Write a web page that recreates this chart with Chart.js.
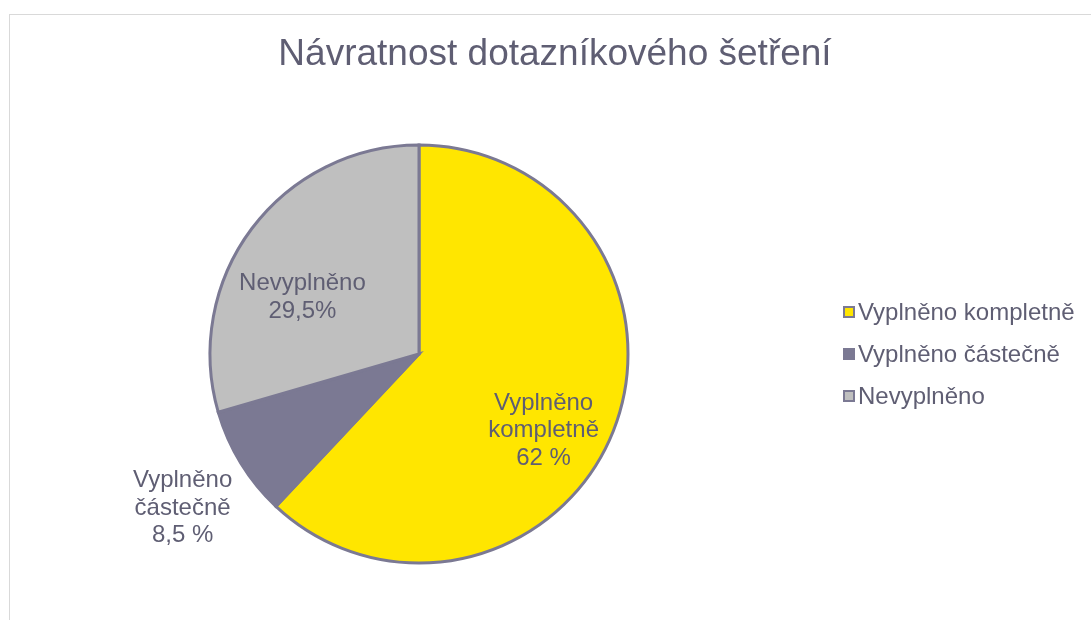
<!DOCTYPE html>
<html lang="cs">
<head>
<meta charset="utf-8">
<title>Návratnost dotazníkového šetření</title>
<script src="https://cdn.jsdelivr.net/npm/chart.js@4.4.1/dist/chart.umd.min.js"></script>
<style>
    html, body {
        margin: 0;
        padding: 0;
        background: #ffffff;
        overflow: hidden;
        width: 1091px;
        height: 620px;
    }
    #frame {
        position: absolute;
        left: 9px;
        top: 14px;
        width: 1100px;
        height: 640px;
        border: 1px solid #d9d9d9;
        box-sizing: border-box;
    }
    #chart {
        position: absolute;
        left: 9px;
        top: 14px;
    }
</style>
</head>
<body>
<div id="frame"></div>
<canvas id="chart" width="1092" height="606"></canvas>
<script>
const chartTitle = 'Návratnost dotazníkového šetření';
const categories = ['Vyplněno kompletně', 'Vyplněno částečně', 'Nevyplněno'];
const shares = [62, 8.5, 29.5];
const sliceLabels = [
    ['Vyplněno', 'kompletně', '62 %'],
    ['Vyplněno', 'částečně', '8,5 %'],
    ['Nevyplněno', '29,5%'],
];
const sliceColors = ['#ffe600', '#7b7993', '#bfbfbf'];

const textColor = '#5f5e73';
const edgeColor = '#7b7993';
const fontFamily = '"Liberation Sans", Arial, sans-serif';

// where each data label sits: angle shift from the slice middle, and distance as part of the radius
const labelShift = [10, -1.6, -11];
const labelDistance = [0.70, 1.35, 0.62];

// title is drawn over the full canvas width, the pie area itself is shifted left for the legend
const titlePlugin = {
    id: 'wideTitle',
    afterDraw(chart) {
        const ctx = chart.ctx;
        ctx.save();
        ctx.font = `37px ${fontFamily}`;
        ctx.fillStyle = textColor;
        ctx.textAlign = 'center';
        ctx.textBaseline = 'middle';
        ctx.fillText(chartTitle, chart.width / 2, 41);
        ctx.restore();
    },
};

const sliceLabelPlugin = {
    id: 'sliceLabels',
    afterDatasetsDraw(chart) {
        const ctx = chart.ctx;
        const meta = chart.getDatasetMeta(0);

        ctx.save();
        ctx.font = `24px ${fontFamily}`;
        ctx.fillStyle = textColor;
        ctx.textAlign = 'center';
        ctx.textBaseline = 'middle';

        meta.data.forEach((arc, index) => {
            const props = arc.getProps(['x', 'y', 'startAngle', 'endAngle', 'outerRadius'], true);
            const mid = (props.startAngle + props.endAngle) / 2 + labelShift[index] * Math.PI / 180;
            const dist = props.outerRadius * labelDistance[index];
            const cx = props.x + Math.cos(mid) * dist;
            const cy = props.y + Math.sin(mid) * dist;
            const lines = sliceLabels[index];
            const lineHeight = 27.5;
            const top = cy - ((lines.length - 1) * lineHeight) / 2;

            lines.forEach((line, i) => {
                ctx.fillText(line, cx, top + i * lineHeight);
            });
        });

        ctx.restore();
    },
};

const sideLegendPlugin = {
    id: 'sideLegend',
    afterDraw(chart) {
        const ctx = chart.ctx;
        const left = 834;
        const firstRow = 298;
        const rowGap = 42;
        const box = 12;

        ctx.save();
        ctx.font = `24px ${fontFamily}`;
        ctx.textAlign = 'left';
        ctx.textBaseline = 'middle';

        categories.forEach((name, index) => {
            const y = firstRow + index * rowGap;
            ctx.fillStyle = edgeColor;
            ctx.fillRect(left, y - box / 2, box, box);
            ctx.fillStyle = sliceColors[index];
            ctx.fillRect(left + 2, y - box / 2 + 2, box - 4, box - 4);
            ctx.fillStyle = textColor;
            ctx.fillText(name, left + box + 3, y + 1);
        });

        ctx.restore();
    },
};

const canvas = document.getElementById('chart');
new Chart(canvas, {
    type: 'pie',
    data: {
        labels: categories,
        datasets: [{
            data: shares,
            backgroundColor: sliceColors,
            borderColor: edgeColor,
            borderWidth: 3,
            borderJoinStyle: 'miter',
            radius: 209,
        }],
    },
    options: {
        responsive: false,
        animation: false,
        layout: {
            padding: {
                top: 80,
                left: 0,
                right: 272,
                bottom: 6,
            },
        },
        plugins: {
            legend: {
                display: false,
            },
            tooltip: {
                enabled: false,
            },
            title: {
                display: false,
            },
        },
    },
    plugins: [titlePlugin, sliceLabelPlugin, sideLegendPlugin],
});
</script>
</body>
</html>
